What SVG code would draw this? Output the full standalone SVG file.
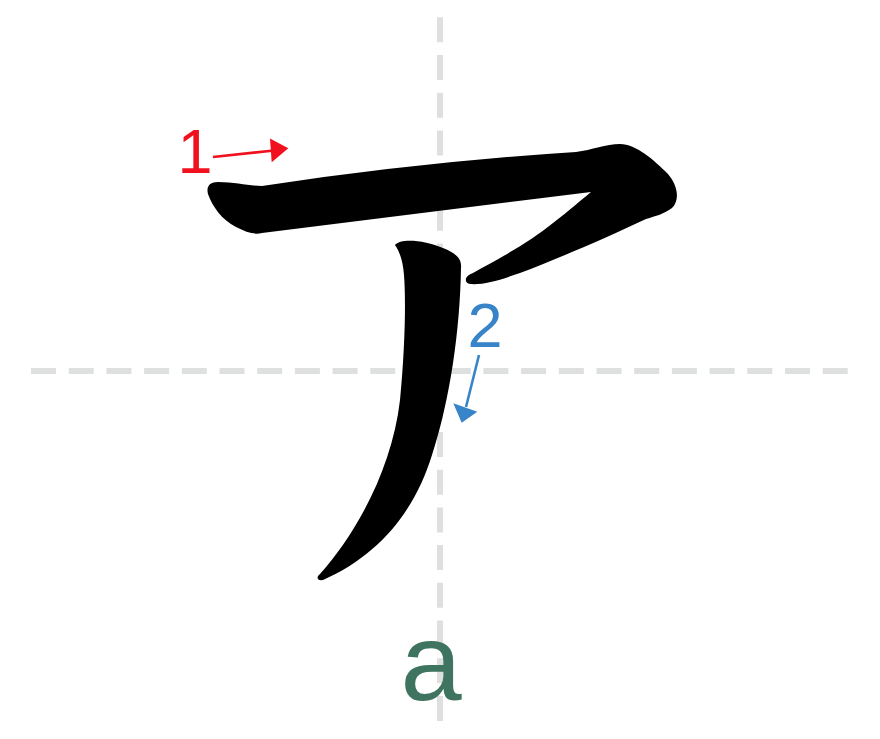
<svg xmlns="http://www.w3.org/2000/svg" width="880" height="739" viewBox="0 0 880 739">
<style>
.grid{stroke:#dde0df;stroke-width:6;stroke-dasharray:25 12.7;fill:none}
.ink{fill:#000}
.num{font-family:"Liberation Sans","Noto Sans",sans-serif;font-size:63px;text-anchor:middle}
</style>
<rect width="880" height="739" fill="#fff"/>
<g id="guides">
<line class="grid" x1="31" y1="371" x2="848" y2="371"/>
<line class="grid" x1="440" y1="17.3" x2="440" y2="722"/>
</g>
<g id="stroke1">
<path class="ink" d="M208,194 C206,186 210,182 218,182 C236,182 248,186 262,186 Q419,162 576,152 C592,150 606,144 620,144 C636,144 654,160 668,174 C678,186 680,200 672,208 C664,214 656,216 646,219 C610,236 560,258 520,273 C500,280 484,285 470,284 C464,283 464,276 473,273 C500,258 530,242 553,223 C570,210 580,201 591,192 L262,233 C254,235 246,232 236,227 C222,220 212,206 208,194 Z"/>
</g>
<g id="stroke2">
<path class="ink" d="M395,245 C400,238 425,240 443,248 C455,253 462,258 461,268 C460,330 450,400 432,455 C415,510 380,555 323,580 C317,581 316,577 320,574 C355,535 392,470 400,400 C405,350 406,300 404,275 C403,262 400,252 395,245 Z"/>
</g>
<g id="connectors">
<g id="arrow1">
<line x1="213" y1="157" x2="274" y2="150.5" stroke="#f0101e" stroke-width="2.6"/>
<polygon points="288.3,148.3 270,138.5 271.7,162.3" fill="#f0101e"/>
</g>
<g id="arrow2">
<line x1="479" y1="355" x2="466" y2="407" stroke="#3884c8" stroke-width="2.6"/>
<polygon points="461.7,422.7 453.3,403.3 477.3,411.7" fill="#3884c8"/>
</g>
</g>
<g id="label1">
<text class="num" x="195" y="173.3" fill="#f0101e">1</text>
</g>
<g id="label2">
<text class="num" x="485" y="346.7" fill="#3884c8">2</text>
</g>
<g id="reading">
<text x="431" y="700" font-family="Liberation Sans, Arial, sans-serif" font-size="110" text-anchor="middle" fill="#3f7560">a</text>
</g>
</svg>
